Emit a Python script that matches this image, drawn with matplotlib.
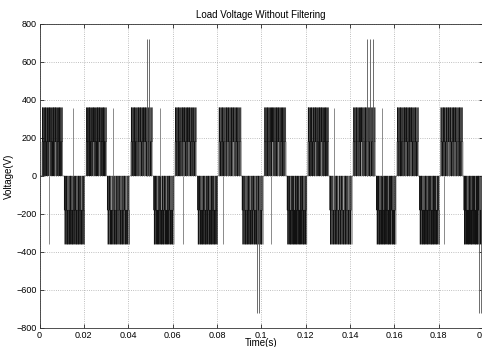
#!/usr/bin/env python3

import matplotlib
matplotlib.use("Agg")
import matplotlib.pyplot as plt
import numpy as np

# block edges (s): one positive and one negative block per cycle
POS_START = [0.0011, 0.0210, 0.0412, 0.0611, 0.0808, 0.1013, 0.1210, 0.1414, 0.1612, 0.1808]
POS_END = [0.0105, 0.0303, 0.0510, 0.0708, 0.0910, 0.1112, 0.1305, 0.1515, 0.1710, 0.1910]
NEG_START = [0.0111, 0.0305, 0.0514, 0.0712, 0.0913, 0.1116, 0.1308, 0.1519, 0.1713, 0.1913]
NEG_END = [0.0204, 0.0406, 0.0607, 0.0804, 0.1009, 0.1206, 0.1410, 0.1608, 0.1804, 0.2000]

# switching pattern inside one block (fraction of block width, level in V)
POS_FRAC = [0.000, 0.012, 0.027, 0.041, 0.052, 0.068, 0.080, 0.094, 0.109, 0.121,
            0.135, 0.148, 0.163, 0.176, 0.189, 0.203, 0.217, 0.229, 0.244, 0.257,
            0.271, 0.284, 0.298, 0.311, 0.326, 0.339, 0.352, 0.366, 0.380, 0.393,
            0.407, 0.420, 0.434, 0.447, 0.461, 0.474, 0.488, 0.502, 0.515, 0.529,
            0.542, 0.556, 0.569, 0.583, 0.597, 0.610, 0.624, 0.637, 0.651, 0.664,
            0.678, 0.692, 0.705, 0.719, 0.732, 0.746, 0.759, 0.773, 0.787, 0.800,
            0.814, 0.827, 0.841, 0.854, 0.868, 0.882, 0.895, 0.909, 0.922, 0.936,
            0.949, 0.963, 0.976, 0.990]
POS_LEVEL = [180, 360, 0, 360, 180, 0, 360, 0, 180, 360,
             0, 360, 0, 360, 180, 0, 360, 0, 180, 360,
             0, 360, 180, 0, 360, 0, 360, 180, 360, 0,
             180, 360, 0, 360, 180, 0, 360, 0, 180, 360,
             0, 360, 0, 360, 180, 0, 360, 180, 360, 0,
             360, 180, 0, 360, 0, 180, 360, 0, 360, 180,
             0, 360, 0, 360, 180, 0, 360, 0, 180, 360,
             0, 180, 360, 180]
NEG_FRAC = [0.000, 0.015, 0.029, 0.043, 0.056, 0.070, 0.083, 0.097, 0.111, 0.124,
            0.138, 0.151, 0.165, 0.179, 0.192, 0.206, 0.219, 0.233, 0.247, 0.260,
            0.274, 0.287, 0.301, 0.315, 0.328, 0.342, 0.355, 0.369, 0.383, 0.396,
            0.410, 0.423, 0.437, 0.451, 0.464, 0.478, 0.491, 0.505, 0.519, 0.532,
            0.546, 0.559, 0.573, 0.587, 0.600, 0.614, 0.627, 0.641, 0.655, 0.668,
            0.682, 0.695, 0.709, 0.723, 0.736, 0.750, 0.763, 0.777, 0.791, 0.804,
            0.818, 0.831, 0.845, 0.859, 0.872, 0.886, 0.899, 0.913, 0.927, 0.940,
            0.954, 0.967, 0.981]
NEG_LEVEL = [-180, 0, -360, 0, -360, -180, 0, -360, 0, -180,
             -360, 0, -360, -180, -360, 0, -180, -360, 0, -360,
             -180, 0, -360, 0, -360, -180, 0, -360, -180, -360,
             0, -360, 0, -180, -360, 0, -360, -180, 0, -360,
             0, -180, -360, 0, -360, -180, -360, 0, -180, -360,
             0, -360, 0, -360, -180, 0, -360, 0, -180, -360,
             0, -360, -180, -360, 0, -180, -360, 0, -360, -180,
             0, -180, -360]

# single thin pulses seen between the blocks
THIN_T = [0.0044, 0.0150, 0.0331, 0.0544, 0.0649, 0.0829, 0.1044, 0.1327, 0.1545, 0.1826]
THIN_V = [-360, 360, 360, 360, -360, -360, -360, 360, 360, -360]

# overshoot spikes
SPIKE_T = [0.0484, 0.0496, 0.0980, 0.0992, 0.1479, 0.1490, 0.1505, 0.1980, 0.1990]
SPIKE_V = [720, 720, -720, -720, 720, 720, 720, -720, -720]

XTICKS = [0, 0.02, 0.04, 0.06, 0.08, 0.1, 0.12, 0.14, 0.16, 0.18, 0.2]
XTICKLABELS = ["0", "0.02", "0.04", "0.06", "0.08", "0.1", "0.12", "0.14", "0.16", "0.18", "0.2"]
YTICKS = [-800, -600, -400, -200, 0, 200, 400, 600, 800]


def build_waveform():
    t = [0.0]
    v = [0.0]
    blocks = []
    for i in range(len(POS_START)):
        blocks.append((POS_START[i], POS_END[i], POS_FRAC, POS_LEVEL))
        blocks.append((NEG_START[i], NEG_END[i], NEG_FRAC, NEG_LEVEL))
    for start, end, frac, level in blocks:
        dur = end - start
        for f, lv in zip(frac, level):
            t.append(start + f * dur)
            v.append(lv)
        t.append(end)
        v.append(0)
    return np.array(t), np.array(v)


def main():
    plt.rcParams['font.family'] = ['Liberation Sans', 'DejaVu Sans']
    fig = plt.figure(figsize=(4.82, 3.47), dpi=100)
    ax = fig.add_axes([0.082, 0.055, 0.92, 0.876])

    t, v = build_waveform()
    ax.plot(t, v, color='#111111', linewidth=0.25, drawstyle='steps-post')
    ax.vlines(THIN_T, 0, THIN_V, color='#777777', linewidth=0.6)
    ax.vlines(SPIKE_T, 0, SPIKE_V, color='#555555', linewidth=0.6)

    ax.set_xlim(0, 0.2)
    ax.set_ylim(-800, 800)
    ax.set_xticks(XTICKS)
    ax.set_xticklabels(XTICKLABELS)
    ax.set_yticks(YTICKS)
    ax.tick_params(direction='in', length=3, width=0.5, labelsize=6.5, top=True, right=True, pad=2)
    ax.grid(True, linestyle=':', color='#aaaaaa', linewidth=0.6)
    for s in ax.spines.values():
        s.set_linewidth(0.6)
        s.set_color('#333333')

    ax.set_title("Load Voltage Without Filtering", fontsize=7, pad=4)
    ax.set_xlabel("Time(s)", fontsize=7, labelpad=-1)
    ax.set_ylabel("Voltage(V)", fontsize=7, labelpad=2)

    fig.savefig("out.png", dpi=100)


if __name__ == '__main__':
    main()
